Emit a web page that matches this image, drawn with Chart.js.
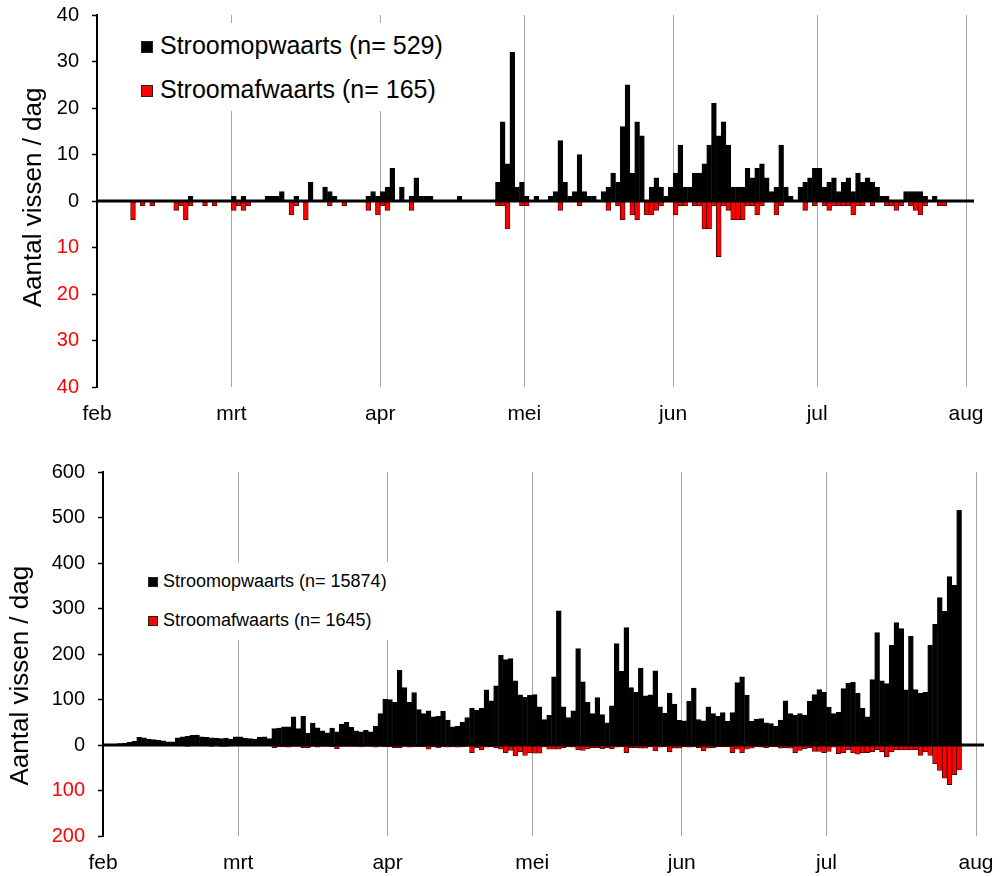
<!DOCTYPE html>
<html>
<head>
<meta charset="utf-8">
<title>Aantal vissen / dag</title>
<script src="https://cdn.jsdelivr.net/npm/chart.js@4.4.1/dist/chart.umd.min.js"></script>
<style>
  body { margin: 0; background: #fff; }
  #wrap { position: relative; width: 1003px; height: 876px; font-family: 'Liberation Sans', Arial, sans-serif; }
  #wrap canvas { position: absolute; left: 0; }
  .legend { position: absolute; background: #fff; color: #000; }
  .legend div { white-space: nowrap; }
  .legend .box { display: inline-block; vertical-align: middle; box-sizing: border-box; border: 1px solid #222; }
</style>
</head>
<body>
<div id="wrap">
  <canvas id="topChart" width="1003" height="435" style="top:0"></canvas>
  <canvas id="bottomChart" width="1003" height="441" style="top:435px"></canvas>

  <div class="legend" style="left:141px; top:23px; width:312px; font-size:25px;">
    <div style="height:44px; line-height:44px;"><span class="box" style="width:12px; height:12px; background:#000; margin-right:7px;"></span>Stroomopwaarts (n= 529)</div>
    <div style="height:44px; line-height:44px;"><span class="box" style="width:12px; height:12px; background:#ff0000; margin-right:7px;"></span>Stroomafwaarts (n= 165)</div>
  </div>

  <div class="legend" style="left:148px; top:562px; width:248px; font-size:18px;">
    <div style="height:39px; line-height:39px;"><span class="box" style="width:10px; height:10px; background:#000; margin-right:5px;"></span>Stroomopwaarts (n= 15874)</div>
    <div style="height:39px; line-height:39px;"><span class="box" style="width:10px; height:10px; background:#ff0000; margin-right:5px;"></span>Stroomafwaarts (n= 1645)</div>
  </div>
</div>

<script>
// month ticks (day index from 1 feb)
const months = ['feb', 'mrt', 'apr', 'mei', 'jun', 'jul', 'aug']
const monthStarts = [0, 28, 59, 89, 120, 150, 181]

// top panel, fish per day
const stroomopTop = [
  0, 0, 0, 0, 0, 0, 0, 0, 0, 0,
  0, 0, 0, 0, 0, 0, 0, 0, 0, 1,
  0, 0, 0, 0, 0, 0, 0, 0, 1, 0,
  1, 0, 0, 0, 0, 1, 1, 1, 2, 0,
  0, 1, 0, 0, 4, 0, 0, 3, 2, 1,
  0, 0, 0, 0, 0, 0, 1, 2, 1, 2,
  3, 7, 0, 3, 0, 1, 5, 1, 1, 1,
  0, 0, 0, 0, 0, 1, 0, 0, 0, 0,
  0, 0, 0, 4, 17, 8, 32, 3, 4, 1,
  0, 1, 0, 0, 1, 2, 13, 4, 1, 2,
  10, 2, 1, 1, 0, 2, 3, 6, 4, 16,
  25, 6, 17, 14, 0, 3, 5, 3, 1, 3,
  6, 12, 3, 3, 6, 6, 8, 12, 21, 14,
  17, 12, 3, 3, 3, 7, 5, 7, 8, 5,
  2, 3, 12, 3, 1, 0, 3, 4, 5, 7,
  7, 3, 4, 5, 2, 4, 5, 2, 6, 4,
  5, 4, 3, 1, 1, 0, 0, 0, 2, 2,
  2, 2, 1, 0, 1, 0, 0, 0, 0, 0,
  0
]
const stroomafTop = [
  0, 0, 0, 0, 0, 0, 0, 4, 0, 1,
  0, 1, 0, 0, 0, 0, 2, 1, 4, 1,
  0, 0, 1, 0, 1, 0, 0, 0, 2, 1,
  2, 1, 0, 0, 0, 0, 0, 0, 0, 0,
  3, 1, 0, 4, 0, 0, 0, 0, 1, 0,
  0, 1, 0, 0, 0, 0, 2, 0, 3, 1,
  2, 0, 0, 0, 0, 2, 0, 0, 0, 0,
  0, 0, 0, 0, 0, 0, 0, 0, 0, 0,
  0, 0, 0, 1, 1, 6, 0, 0, 1, 1,
  0, 0, 0, 0, 0, 0, 2, 0, 0, 0,
  1, 0, 0, 0, 0, 0, 2, 0, 1, 4,
  0, 3, 4, 0, 3, 3, 2, 1, 0, 0,
  3, 1, 1, 0, 1, 1, 6, 6, 1, 12,
  1, 2, 4, 4, 4, 1, 1, 3, 1, 0,
  0, 3, 1, 0, 0, 0, 0, 2, 0, 1,
  0, 1, 2, 1, 1, 1, 1, 3, 1, 1,
  0, 1, 0, 0, 1, 1, 2, 1, 0, 1,
  2, 3, 1, 0, 0, 1, 1, 0, 0, 0,
  0
]

// bottom panel, fish per day
const stroomopBottom = [
  0, 1, 2, 3, 4, 6, 8, 17, 16, 13,
  12, 11, 9, 7, 7, 16, 18, 19, 21, 22,
  18, 17, 16, 15, 14, 15, 13, 18, 18, 15,
  14, 13, 17, 18, 14, 36, 37, 40, 40, 62,
  36, 63, 26, 48, 38, 31, 27, 37, 29, 46,
  50, 39, 31, 29, 32, 29, 41, 69, 101, 100,
  94, 164, 126, 94, 115, 78, 69, 75, 62, 63,
  74, 55, 40, 41, 50, 60, 81, 77, 81, 121,
  97, 130, 197, 188, 190, 141, 110, 105, 109, 111,
  84, 56, 65, 150, 295, 84, 60, 75, 212, 139,
  94, 69, 104, 67, 49, 86, 223, 162, 258, 126,
  116, 169, 108, 110, 163, 84, 70, 114, 90, 54,
  53, 96, 125, 56, 53, 84, 69, 63, 71, 52,
  71, 137, 150, 109, 52, 57, 58, 49, 47, 41,
  55, 97, 69, 65, 69, 66, 96, 111, 122, 116,
  83, 69, 72, 124, 136, 138, 114, 81, 62, 144,
  247, 141, 135, 219, 269, 256, 121, 239, 122, 114,
  116, 219, 265, 324, 294, 370, 351, 516, 0, 0,
  0
]
const stroomafBottom = [
  0, 0, 0, 0, 0, 0, 1, 1, 1, 1,
  1, 1, 1, 1, 1, 2, 2, 3, 2, 2,
  2, 2, 3, 2, 3, 3, 2, 2, 2, 2,
  2, 2, 2, 2, 2, 6, 4, 4, 5, 3,
  3, 6, 6, 3, 5, 3, 3, 4, 8, 3,
  3, 3, 3, 4, 3, 3, 5, 3, 4, 4,
  6, 6, 3, 5, 4, 4, 4, 9, 4, 6,
  4, 5, 4, 5, 4, 3, 17, 6, 11, 5,
  4, 6, 9, 17, 12, 24, 15, 23, 17, 18,
  18, 4, 9, 9, 9, 6, 4, 5, 11, 12,
  8, 6, 6, 8, 6, 8, 5, 4, 17, 6,
  6, 7, 7, 4, 13, 5, 4, 15, 7, 7,
  4, 5, 4, 6, 13, 7, 6, 4, 4, 4,
  17, 9, 17, 9, 7, 4, 5, 6, 4, 4,
  7, 6, 7, 17, 12, 8, 6, 14, 14, 17,
  14, 5, 19, 17, 11, 17, 20, 17, 17, 15,
  10, 15, 26, 15, 11, 11, 11, 11, 10, 23,
  15, 23, 41, 56, 73, 87, 65, 55, 0, 0,
  0
]

const dayLabels = stroomopTop.map((_, i) => i + 1)
const gFont = "'Liberation Sans', Arial, sans-serif"

// thick black line at y = 0, drawn over the bars
const zeroLine = {
  id: 'zeroLine',
  afterDatasetsDraw(chart) {
    const { ctx, chartArea, scales } = chart
    const y = scales.y.getPixelForValue(0)
    ctx.save()
    ctx.strokeStyle = '#000'
    ctx.lineWidth = 3
    ctx.beginPath()
    ctx.moveTo(chartArea.left, y)
    ctx.lineTo(chartArea.right + 8, y)
    ctx.stroke()
    ctx.restore()
  }
}

function drawPanel(canvasId, up, down, opt) {
  const ctx = document.getElementById(canvasId).getContext('2d')
  return new Chart(ctx, {
    type: 'bar',
    data: {
      labels: dayLabels,
      datasets: [{
        label: 'Stroomopwaarts',
        data: up,
        backgroundColor: '#000',
        borderColor: '#000',
        borderWidth: 0.8,
        grouped: false,
        barPercentage: 1,
        categoryPercentage: 1
      }, {
        label: 'Stroomafwaarts',
        data: down.map(v => -v),
        backgroundColor: '#ff0000',
        borderColor: '#3a0000',
        borderWidth: 0.8,
        grouped: false,
        barPercentage: 1,
        categoryPercentage: 1
      }]
    },
    options: {
      responsive: false,
      animation: false,
      layout: { padding: opt.padding },
      plugins: {
        legend: { display: false },
        tooltip: { enabled: false }
      },
      scales: {
        x: { display: false, offset: true },
        months: {
          type: 'linear',
          axis: 'x',
          position: 'bottom',
          min: 0,
          max: 181,
          bounds: 'data',
          offset: false,
          afterBuildTicks: axis => { axis.ticks = monthStarts.map(v => ({ value: v })) },
          afterFit: axis => {
            axis.height = opt.xHeight
            axis.paddingLeft = 0
            axis.paddingRight = 0
          },
          grid: { color: '#a6a6a6', lineWidth: 1, drawTicks: false, offset: false },
          border: { display: false },
          ticks: {
            autoSkip: false,
            maxRotation: 0,
            padding: 15,
            color: '#000',
            font: { family: gFont, size: 21 },
            callback: (value, index) => months[index]
          }
        },
        y: {
          min: opt.yMin,
          max: opt.yMax,
          afterFit: axis => {
            axis.width = opt.yWidth
            axis.paddingTop = 0
            axis.paddingBottom = 0
          },
          grid: { drawOnChartArea: false, drawTicks: true, tickLength: 5, tickColor: '#000', tickWidth: 1.5 },
          border: { display: true, color: '#000', width: 2 },
          ticks: {
            stepSize: opt.step,
            padding: 13,
            font: { family: gFont, size: 20 },
            color: c => c.tick && c.tick.value < 0 ? '#ff0000' : '#000',
            callback: v => Math.abs(v)
          },
          title: {
            display: true,
            text: opt.title,
            color: '#000',
            font: { family: gFont, size: 26 },
            padding: { top: opt.titlePad, bottom: 0 }
          }
        }
      }
    },
    plugins: [zeroLine]
  })
}

drawPanel('topChart', stroomopTop, stroomafTop, {
  padding: { left: 0, top: 15, right: 37, bottom: 0 },
  yWidth: 97, xHeight: 48, yMin: -40, yMax: 40, step: 10, titlePad: 18,
  title: ' Aantal vissen / dag'
})

drawPanel('bottomChart', stroomopBottom, stroomafBottom, {
  padding: { left: 0, top: 37, right: 27, bottom: 0 },
  yWidth: 103, xHeight: 40, yMin: -200, yMax: 600, step: 100, titlePad: 5,
  title: 'Aantal vissen / dag      '
})
</script>
</body>
</html>
